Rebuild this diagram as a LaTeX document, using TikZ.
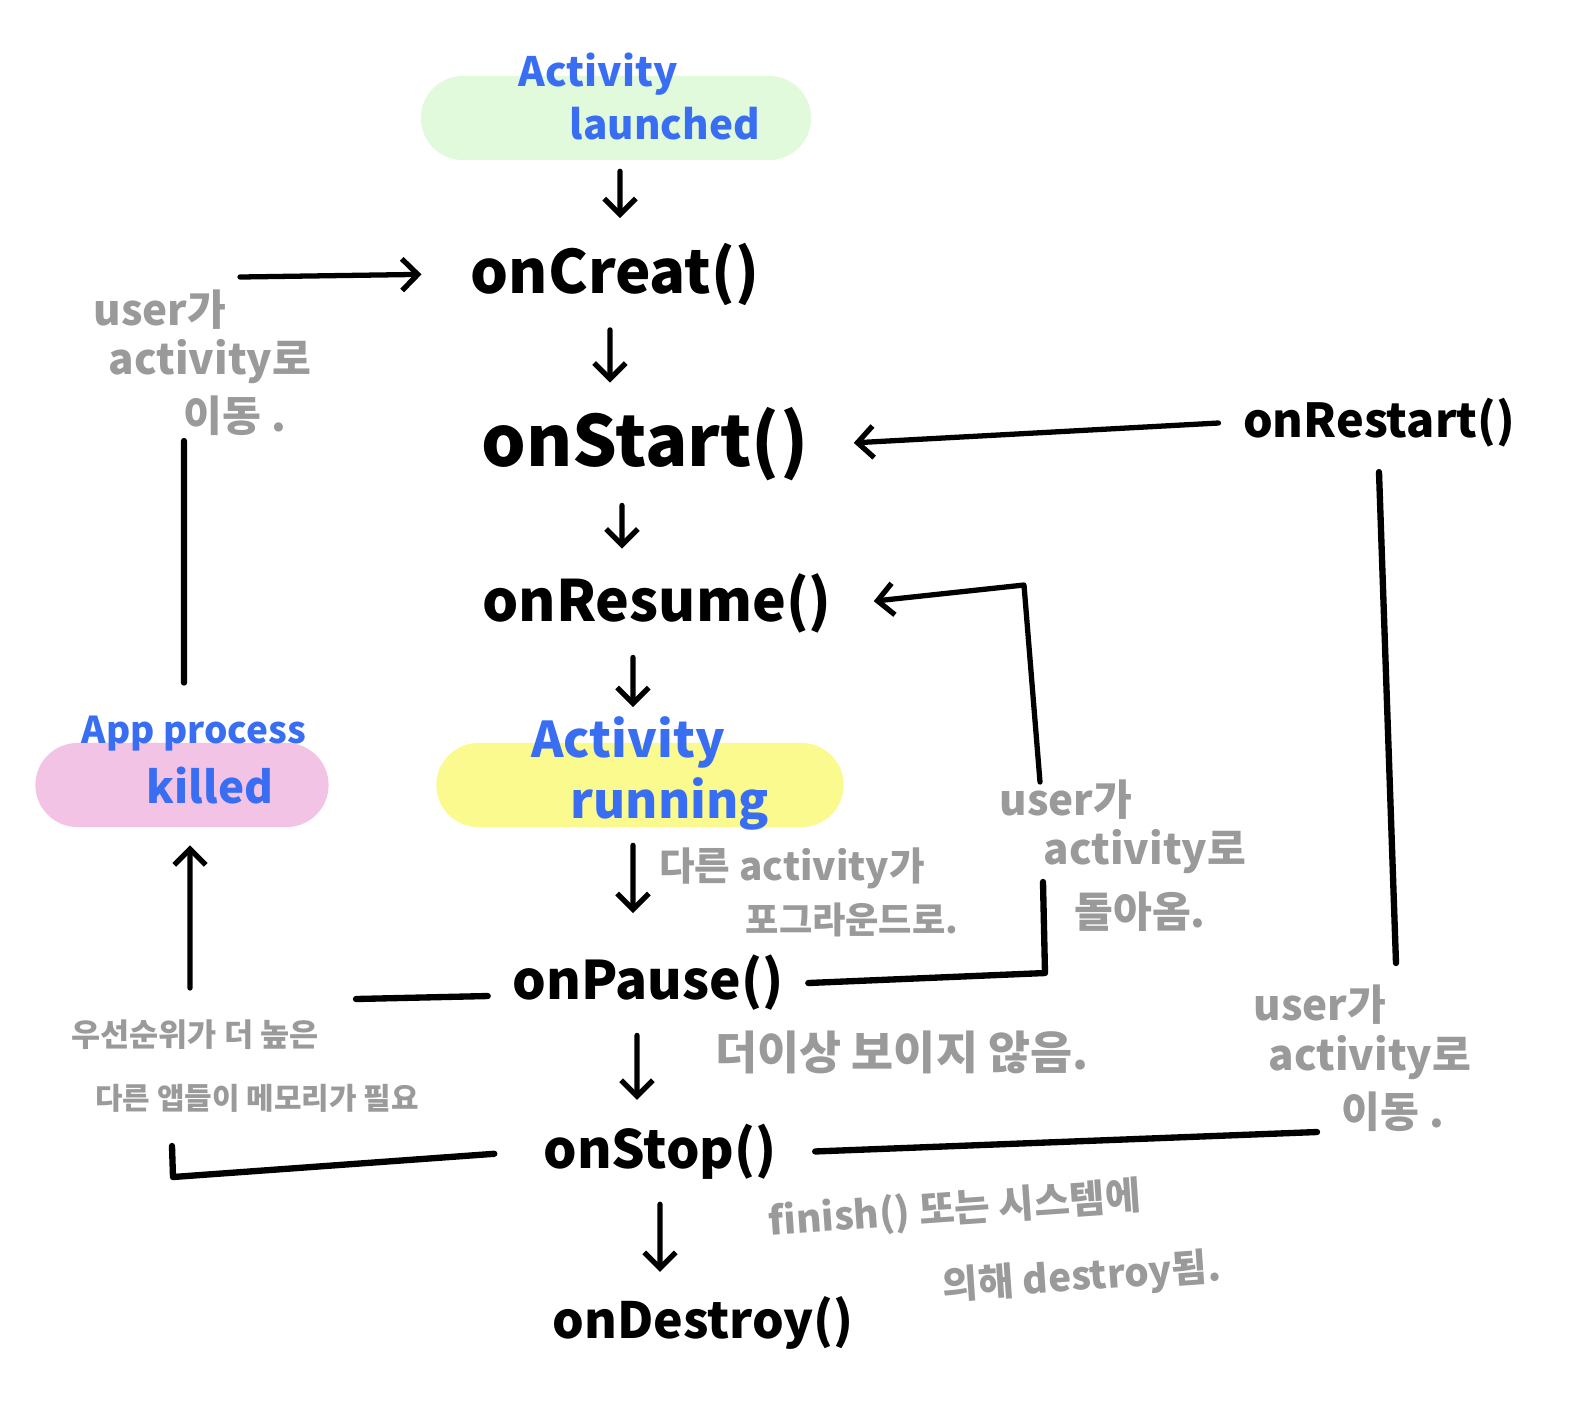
\documentclass[tikz,border=0pt]{standalone}
\usepackage{fontspec}
\newfontfamily\kr{Noto Sans CJK KR}
\usepackage{xcolor}
\definecolor{xblue}{HTML}{3A6EF2}
\definecolor{xgray}{HTML}{9A9A9A}
\definecolor{xgreen}{HTML}{E2FADC}
\definecolor{xyellow}{HTML}{FAFA8E}
\definecolor{xpink}{HTML}{F2C3E5}
\usetikzlibrary{arrows.meta}
\tikzset{
  %% Styles %%
  method/.style = {font=\kr\bfseries\fontsize{#1}{#1}\selectfont, inner sep=0pt, outer sep=7pt},
  pill/.style = {fill=#1, rounded corners=0.42cm, minimum width=3.9cm, minimum height=0.84cm, inner sep=0pt},
  state/.style = {font=\kr\bfseries\fontsize{#1}{#1}\selectfont, text=xblue, inner sep=0pt},
  note/.style = {font=\kr\bfseries\fontsize{#1}{#1}\selectfont, text=xgray, inner sep=0pt},
  wire/.style = {line width=1.8pt, line cap=round, line join=round},
  flow/.style = {wire, line width=1.5pt, -{Straight Barb[length=4.5pt,width=9pt]}},
}
\begin{document}
\begin{tikzpicture}[x=0.01cm, y=-0.01cm]
  \useasboundingbox[fill=white] (0,0) rectangle (1581,1426);

  % pills
  \node[pill=xgreen] (launched) at (616,118) {};
  \node[pill=xyellow, minimum width=4.07cm] (running) at (640,785) {};
  \node[pill=xpink, minimum width=2.93cm] (killed) at (182,785) {};
  \node[state=11.5] (launchedA) at (598,74) {Activity};
  \node[state=11.5] (launchedB) at (665,124) {launched};
  \node[state=14] (runningA) at (628,742) {Activity};
  \node[state=14] (runningB) at (670,804) {running};
  \node[state=10.5] (killedA) at (194,734) {App process};
  \node[state=12.5] (killedB) at (210,786) {killed};

  % callbacks
  \node[method=17] (create) at (615,274) {onCreat()};
  \node[method=20] (start) at (645,444) {onStart()};
  \node[method=16.2] (resume) at (657,603) {onResume()};
  \node[method=15.1] (pause) at (648,983) {onPause()};
  \node[method=15] (stop) at (660,1152) {onStop()};
  \node[method=14.2] (destroy) at (703,1323) {onDestroy()};
  \node[method=13.3] (restart) at (1379,423) {onRestart()};

  % notes
  \node[note=12] (n1a) at (160,310) {user가};
  \node[note=12] (n1b) at (210,362) {activity로};
  \node[note=12] (n1c) at (235,416) {이동 .};
  \node[note=11] (n2a) at (792,868) {다른 activity가};
  \node[note=10.3] (n2b) at (852,920) {포그라운드로.};
  \node[note=12] (n3a) at (1066,800) {user가};
  \node[note=12] (n3b) at (1145,852) {activity로};
  \node[note=12] (n3c) at (1140,912) {돌아옴.};
  \node[note=13] (n4) at (902,1052) {더이상 보이지 않음.};
  \node[note=9] (n5a) at (195,1035) {우선순위가 더 높은};
  \node[note=8.5] (n5b) at (257,1098) {다른 앱들이 메모리가 필요};
  \node[note=12] (n6a) at (1320,1005) {user가};
  \node[note=12] (n6b) at (1370,1058) {activity로};
  \node[note=12] (n6c) at (1393,1112) {이동 .};
  \node[note=11, rotate=4] (n7a) at (955,1210) {finish() 또는 시스템에};
  \node[note=11, rotate=4] (n7b) at (1082,1278) {의해 destroy됨.};

  % free ends
  \coordinate (rl1) at (1043,882);
  \coordinate (rl2) at (1040,782);
  \coordinate (rs1) at (1396,963);
  \coordinate (rs2) at (1317,1132);
  \coordinate (sk1) at (172,1146);
  \coordinate (pk1) at (356,999);
  \coordinate (pk2) at (190,988);
  \coordinate (kc1) at (184,441);
  \coordinate (kc2) at (240,277);

  % main flow
  \draw[flow, shorten <=3pt] ([xshift=0.04cm]launched.south) -- ([xshift=0.05cm]create.north);
  \draw[flow] ([xshift=-0.05cm]create.south) -- ([xshift=-0.35cm]start.north);
  \draw[flow] ([xshift=-0.23cm]start.south) -- ([xshift=-0.35cm]resume.north);
  \draw[flow, shorten >=10pt] ([xshift=-0.24cm]resume.south) -- ([xshift=-0.07cm]running.north);
  \draw[flow, shorten <=5pt, shorten >=5pt] ([xshift=-0.07cm]running.south) -- ([xshift=-0.15cm]pause.north);
  \draw[flow] ([xshift=-0.11cm]pause.south) -- ([xshift=-0.23cm]stop.north);
  \draw[flow] (stop.south) -- ([xshift=-0.43cm]destroy.north);

  % loops
  \draw[flow, shorten >=6pt] (restart.west) -- (start.east);
  \draw[wire] (pause.east) -- (1045,973) -- (rl1);
  \draw[flow, shorten >=5pt] (rl2) -- (1024,585) -- (resume.east);
  \draw[wire, shorten <=4pt] (stop.east) -- (rs2);
  \draw[wire] (rs1) -- (restart.south);
  \draw[wire, shorten <=7pt] (stop.west) -- (173,1177) -- (sk1);
  \draw[wire] ([yshift=-0.13cm]pause.west) -- (pk1);
  \draw[flow, shorten >=5pt] (pk2) -- ([xshift=0.08cm]killed.south);
  \draw[wire, shorten <=17pt] ([xshift=0.02cm]killed.north) -- (kc1);
  \draw[flow, shorten >=7pt] (kc2) -- (create.west);
\end{tikzpicture}
\end{document}
